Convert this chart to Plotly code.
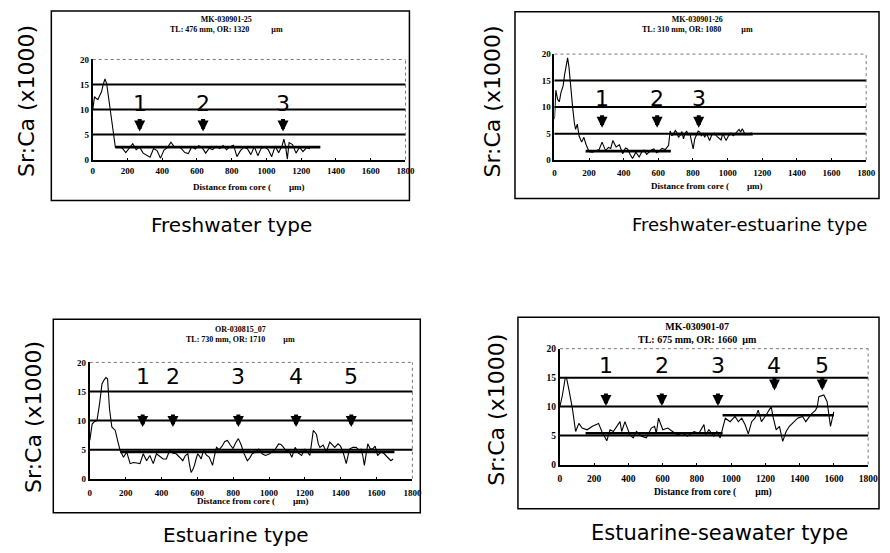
import plotly.graph_objects as go

W, H = 890, 553

# ---------------- data ----------------
X_TICKS = [0, 200, 400, 600, 800, 1000, 1200, 1400, 1600, 1800]
Y_TICKS = [0, 5, 10, 15, 20]
GRID_VALUES = [5, 10, 15]

# Panel 1 : Freshwater type
P1_X = [0, 10, 20, 30, 40, 50, 60, 70, 80, 90,
        100, 110, 120, 130, 150, 170, 190, 210, 230, 250,
        270, 290, 310, 330, 350, 370, 390, 410, 430, 450,
        470, 490, 510, 530, 550, 570, 590, 610, 630, 650,
        670, 690, 710, 730, 750, 770, 790, 810, 830, 850,
        870, 890, 910, 930, 950, 970, 990, 1010, 1030, 1050,
        1070, 1090, 1100, 1110, 1120, 1130, 1150, 1170, 1190, 1210,
        1230, 1250]
P1_Y = [10.0, 12.6, 12.2, 12.0, 12.8, 13.5, 15.0, 16.1, 15.2, 12.6,
        10.0, 7.4, 4.8, 2.5, 2.6, 2.3, 1.4, 2.4, 3.2, 2.0,
        2.5, 1.3, 0.9, 0.5, 2.2, 1.8, 0.3, 1.9, 2.4, 3.5,
        2.5, 2.6, 2.2, 1.4, 1.2, 2.6, 2.1, 2.8, 2.4, 1.3,
        2.3, 2.0, 2.7, 2.2, 2.8, 2.0, 2.6, 2.9, 0.6, 1.8,
        2.5, 2.2, 1.0, 2.6, 0.8, 2.3, 2.5, 2.0, 0.6, 2.7,
        1.4, 2.8, 4.1, 2.6, 0.1, 3.4, 3.0, 1.3, 2.5, 1.6,
        2.4, 2.2]
P1_MEAN_START = [130]
P1_MEAN_END = [1310]
P1_MEAN_VAL = [2.5]
P1_ARROW_X = [270, 635, 1095]
P1_ARROW_TIP = [5.6, 5.6, 5.6]
P1_LABELS = ["1", "2", "3"]

# Panel 2 : Freshwater-estuarine type
P2_X = [0, 8, 18, 28, 38, 50, 58, 68, 76, 84,
        95, 105, 115, 122, 132, 142, 157, 170, 182, 200,
        220, 240, 258, 275, 295, 312, 325, 337, 356, 375,
        394, 410, 422, 438, 451, 470, 489, 505, 517, 532,
        546, 560, 574, 590, 602, 621, 640, 659, 668, 678,
        688, 698, 707, 716, 726, 736, 745, 754, 763, 772,
        782, 792, 801, 810, 820, 830, 839, 848, 858, 868,
        877, 886, 896, 910, 924, 938, 953, 962, 972, 982,
        991, 1005, 1019, 1033, 1047, 1056, 1066, 1075, 1085, 1095,
        1104, 1114, 1123, 1135, 1145]
P2_Y = [7.7, 13.2, 11.5, 11.0, 12.8, 14.0, 16.0, 17.5, 19.3, 17.5,
        13.0, 10.0, 7.0, 5.8, 6.8, 4.6, 3.4, 4.3, 3.0, 1.6,
        1.5, 1.7, 2.0, 3.4, 1.8, 2.4, 2.2, 3.7, 2.5, 2.9,
        1.2, 2.3, 2.1, 1.0, 0.3, 1.5, 0.6, 1.6, 1.9, 1.1,
        1.5, 1.9, 2.1, 1.4, 1.6, 2.2, 2.0, 2.8, 5.5, 4.6,
        5.0, 5.6, 5.2, 4.3, 4.7, 5.4, 4.0, 5.0, 5.5, 4.8,
        5.0, 3.6, 2.1, 4.0, 4.9, 5.5, 5.3, 4.6, 5.0, 4.3,
        5.1, 4.4, 3.7, 4.9, 5.1, 4.5, 4.0, 3.8, 5.0, 4.2,
        3.7, 4.6, 5.1, 4.6, 5.2, 5.6, 5.8, 5.3, 5.9, 5.2,
        4.8, 5.0, 4.9, 5.1, 5.0]
P2_MEAN_START = [180, 672]
P2_MEAN_END = [672, 1145]
P2_MEAN_VAL = [1.7, 4.9]
P2_ARROW_X = [275, 593, 833]
P2_ARROW_TIP = [6.1, 6.1, 6.1]
P2_LABELS = ["1", "2", "3"]

# Panel 3 : Estuarine type
P3_X = [0, 13, 25, 40, 55, 68, 80, 90, 99, 110,
        123, 132, 142, 155, 169, 188, 206, 225, 243, 262,
        280, 298, 317, 335, 354, 372, 390, 409, 427, 446,
        464, 482, 501, 519, 533, 547, 556, 565, 575, 584,
        593, 602, 612, 621, 635, 650, 667, 685, 696, 707,
        722, 738, 753, 768, 784, 799, 814, 829, 845, 860,
        879, 893, 906, 925, 943, 962, 980, 998, 1017, 1035,
        1054, 1067, 1081, 1095, 1108, 1127, 1146, 1164, 1182, 1200,
        1214, 1228, 1237, 1247, 1256, 1265, 1275, 1284, 1302, 1320,
        1339, 1353, 1367, 1385, 1399, 1413, 1431, 1449, 1468, 1486,
        1500, 1514, 1523, 1532, 1542, 1551, 1564, 1578, 1592, 1606,
        1624, 1643, 1661, 1680, 1692]
P3_Y = [6.6, 9.4, 9.8, 10.0, 13.0, 16.3, 17.0, 17.4, 17.2, 12.0,
        8.9, 8.6, 8.3, 6.6, 4.9, 3.7, 4.6, 2.6, 2.8, 2.7,
        2.6, 4.3, 3.1, 4.0, 2.6, 4.3, 3.8, 3.4, 3.4, 4.9,
        4.4, 4.3, 3.7, 3.1, 4.0, 4.3, 2.5, 1.1, 1.6, 2.3,
        3.4, 4.3, 3.9, 3.4, 4.9, 4.1, 3.7, 2.3, 4.0, 5.4,
        5.0, 5.6, 6.4, 6.6, 5.8, 5.2, 6.2, 6.9, 5.8, 4.4,
        3.1, 3.6, 4.3, 4.6, 5.1, 4.3, 4.0, 4.2, 4.6, 5.1,
        6.0, 5.9, 5.4, 4.8, 5.0, 3.7, 5.4, 4.4, 4.0, 5.1,
        4.6, 4.0, 6.0, 8.3, 8.0, 7.6, 6.0, 5.4, 5.8, 4.6,
        6.3, 5.8, 5.4, 6.0, 5.6, 4.6, 2.6, 5.1, 5.4, 5.4,
        5.0, 5.1, 4.0, 2.3, 4.0, 6.0, 5.2, 5.1, 5.6, 4.0,
        4.6, 4.3, 3.7, 3.1, 3.4]
P3_MEAN_START = [170]
P3_MEAN_END = [1700]
P3_MEAN_VAL = [4.6]
P3_ARROW_X = [295, 464, 829, 1151, 1459]
P3_ARROW_TIP = [8.9, 8.9, 8.9, 8.9, 8.9]
P3_LABELS = ["1", "2", "3", "4", "5"]

# Panel 4 : Estuarine-seawater type
P4_X = [0, 15, 31, 38, 55, 73, 92, 111, 130, 159,
        190, 226, 245, 274, 293, 312, 351, 361, 380, 409,
        428, 447, 476, 505, 534, 553, 563, 576, 601, 630,
        658, 687, 716, 745, 783, 812, 841, 851, 870, 898,
        917, 936, 956, 966, 994, 1023, 1042, 1062, 1081, 1100,
        1120, 1139, 1158, 1177, 1205, 1234, 1244, 1263, 1282, 1301,
        1321, 1340, 1368, 1388, 1417, 1436, 1465, 1493, 1503, 1512,
        1541, 1560, 1580, 1590, 1599]
P4_Y = [10.0, 12.0, 14.9, 15.1, 12.6, 9.7, 5.7, 7.1, 6.3, 6.0,
        6.6, 7.1, 5.7, 4.1, 6.0, 5.7, 7.4, 5.7, 7.4, 5.1,
        4.6, 5.7, 4.9, 4.6, 6.3, 6.6, 5.4, 8.0, 6.0, 6.3,
        5.7, 5.1, 5.4, 4.9, 5.7, 5.4, 6.9, 5.1, 6.0, 4.9,
        5.7, 4.6, 6.9, 8.0, 7.4, 8.3, 7.4, 8.0, 6.9, 5.3,
        7.4, 8.0, 9.4, 7.4, 8.6, 10.0, 8.3, 6.0, 6.6, 4.0,
        5.7, 6.6, 7.4, 8.0, 8.3, 7.4, 8.6, 9.4, 10.0, 11.7,
        12.0, 10.9, 6.6, 8.0, 9.1]
P4_MEAN_START = [150, 950]
P4_MEAN_END = [950, 1600]
P4_MEAN_VAL = [5.4, 8.5]
P4_ARROW_X = [269, 595, 923, 1253, 1532]
P4_ARROW_TIP = [10.1, 10.1, 10.1, 12.8, 12.8]
P4_LABELS = ["1", "2", "3", "4", "5"]

CAPTIONS = ["Freshwater type", "Freshwater-estuarine type",
            "Estuarine type", "Estuarine-seawater type"]
TITLES = [
    "MK-030901-25<br>TL: 476 mm, OR: 1320\u00a0\u00a0\u00a0\u00a0\u00a0\u00a0\u00a0\u00a0\u00a0\u00a0\u00a0µm",
    "MK-030901-26<br>TL: 310 mm, OR: 1080\u00a0\u00a0\u00a0\u00a0\u00a0\u00a0\u00a0\u00a0\u00a0\u00a0µm",
    "OR-030815_07<br>TL: 730 mm, OR: 1710\u00a0\u00a0\u00a0\u00a0\u00a0\u00a0\u00a0\u00a0\u00a0µm",
    "MK-030901-07<br>TL: 675 mm, OR: 1660\u00a0\u00a0µm",
]
Y_LABEL = "Sr:Ca (x1000)"
X_LABEL = "Distance from core (\u00a0\u00a0\u00a0\u00a0\u00a0\u00a0\u00a0\u00a0µm)"

# ---------------- layout geometry (pixels) ----------------
PANELS = [
    dict(x=P1_X, y=P1_Y, ms=P1_MEAN_START, me=P1_MEAN_END, mv=P1_MEAN_VAL,
         ax=P1_ARROW_X, at=P1_ARROW_TIP, lab=P1_LABELS, laby=11.3,
         plot=(92, 409, 55.5, 157.5), box=(50, 413, 6, 199),
         title=(228, 20, 8), ylab=(25, 98), xlab=(250, 185), cap=(233, 224, 20),
         tick=9, standoff=2),
    dict(x=P2_X, y=P2_Y, ms=P2_MEAN_START, me=P2_MEAN_END, mv=P2_MEAN_VAL,
         ax=P2_ARROW_X, at=P2_ARROW_TIP, lab=P2_LABELS, laby=11.6,
         plot=(560, 876, 50, 158), box=(520, 889, 7, 197),
         title=(705, 20, 8), ylab=(497, 98), xlab=(715, 184), cap=(758, 224, 18),
         tick=9, standoff=3),
    dict(x=P3_X, y=P3_Y, ms=P3_MEAN_START, me=P3_MEAN_END, mv=P3_MEAN_VAL,
         ax=P3_ARROW_X, at=P3_ARROW_TIP, lab=P3_LABELS, laby=17.6,
         plot=(89, 416, 364, 482.5), box=(52, 424, 320, 517),
         title=(242, 336, 8), ylab=(32, 420), xlab=(254, 505), cap=(237, 540, 20),
         tick=9, standoff=4),
    dict(x=P4_X, y=P4_Y, ms=P4_MEAN_START, me=P4_MEAN_END, mv=P4_MEAN_VAL,
         ax=P4_ARROW_X, at=P4_ARROW_TIP, lab=P4_LABELS, laby=17.1,
         plot=(565.5, 878, 350, 468), box=(523, 889, 318, 513),
         title=(705, 334.5, 10), ylab=(501, 412), xlab=(721, 496), cap=(727, 538, 21),
         tick=9.5, standoff=4),
]

SERIF = "Liberation Serif"
SANS = "DejaVu Sans"

fig = go.Figure()
layout = dict(width=W, height=H, margin=dict(l=0, r=0, t=0, b=0),
              paper_bgcolor="white", plot_bgcolor="white", showlegend=False)
shapes, annotations = [], []


def paper_text(x, y, text, font, angle=0):
    return dict(x=x / W, y=1 - y / H, xref="paper", yref="paper", text=text,
                showarrow=False, xanchor="center", yanchor="middle",
                textangle=angle, font=font)


for i, p in enumerate(PANELS, start=1):
    xn = "x" if i == 1 else f"x{i}"
    yn = "y" if i == 1 else f"y{i}"
    xk = "xaxis" if i == 1 else f"xaxis{i}"
    yk = "yaxis" if i == 1 else f"yaxis{i}"
    x0, x1, y0, y1 = p["plot"]
    tickfont = dict(family=SERIF, size=p["tick"], color="black", weight="bold")
    layout[xk] = dict(domain=[x0 / W, x1 / W], anchor=yn, range=[0, 1800],
                      tickvals=X_TICKS, showgrid=False, zeroline=False,
                      showline=True, linecolor="black", linewidth=2,
                      ticks="inside", ticklen=2, tickcolor="black",
                      ticklabelstandoff=p["standoff"],
                      tickfont=tickfont, fixedrange=True)
    layout[yk] = dict(domain=[1 - y1 / H, 1 - y0 / H], anchor=xn, range=[0, 20],
                      tickvals=Y_TICKS, showgrid=False, zeroline=False,
                      showline=True, linecolor="black", linewidth=2,
                      ticks="", tickfont=tickfont, fixedrange=True)

    # horizontal reference lines
    for g in GRID_VALUES:
        shapes.append(dict(type="line", xref=f"{xn} domain", yref=yn,
                           x0=0, x1=1, y0=g, y1=g,
                           line=dict(color="black", width=2), layer="below"))
    # dotted top / right plot borders
    shapes.append(dict(type="line", xref=f"{xn} domain", yref=f"{yn} domain",
                       x0=0, x1=1, y0=1, y1=1,
                       line=dict(color="#777", width=1, dash="dot")))
    shapes.append(dict(type="line", xref=f"{xn} domain", yref=f"{yn} domain",
                       x0=1, x1=1, y0=0, y1=1,
                       line=dict(color="#777", width=1, dash="dot")))
    # outer frame
    bx0, bx1, by0, by1 = p["box"]
    shapes.append(dict(type="rect", xref="paper", yref="paper",
                       x0=bx0 / W, x1=bx1 / W, y0=1 - by1 / H, y1=1 - by0 / H,
                       line=dict(color="black", width=1.5)))

    # data line
    fig.add_trace(go.Scatter(x=p["x"], y=p["y"], mode="lines",
                             line=dict(color="black", width=1.1),
                             xaxis=xn, yaxis=yn, hoverinfo="skip"))
    # mean lines
    for s, e, v in zip(p["ms"], p["me"], p["mv"]):
        fig.add_trace(go.Scatter(x=[s, e], y=[v, v], mode="lines",
                                 line=dict(color="black", width=2.6),
                                 xaxis=xn, yaxis=yn, hoverinfo="skip"))
    # arrows and numbers
    for ax, at, lab in zip(p["ax"], p["at"], p["lab"]):
        annotations.append(dict(x=ax, y=at, xref=xn, yref=yn, text="",
                                showarrow=True, ax=0, ay=-14, arrowhead=2,
                                arrowsize=0.55, arrowwidth=4, arrowcolor="black"))
        annotations.append(dict(x=ax, y=p["laby"], xref=xn, yref=yn, text=lab,
                                showarrow=False, xanchor="center", yanchor="middle",
                                font=dict(family=SANS, size=22, color="black")))

    # texts
    tx, ty, ts = p["title"]
    annotations.append(paper_text(tx, ty, TITLES[i - 1],
                                  dict(family=SERIF, size=ts, color="black", weight="bold")))
    lx, ly = p["ylab"]
    annotations.append(paper_text(lx, ly, Y_LABEL,
                                  dict(family=SANS, size=22, color="black"), angle=-90))
    xx, xy = p["xlab"]
    annotations.append(paper_text(xx, xy, X_LABEL,
                                  dict(family=SERIF, size=p["tick"], color="black", weight="bold")))
    cx, cy, cs = p["cap"]
    annotations.append(paper_text(cx, cy, CAPTIONS[i - 1],
                                  dict(family=SANS, size=cs, color="black")))

layout["shapes"] = shapes
layout["annotations"] = annotations
fig.update_layout(**layout)
fig.write_html("out.html", config={"displayModeBar": False},
               post_script="document.body.style.margin='0';")
